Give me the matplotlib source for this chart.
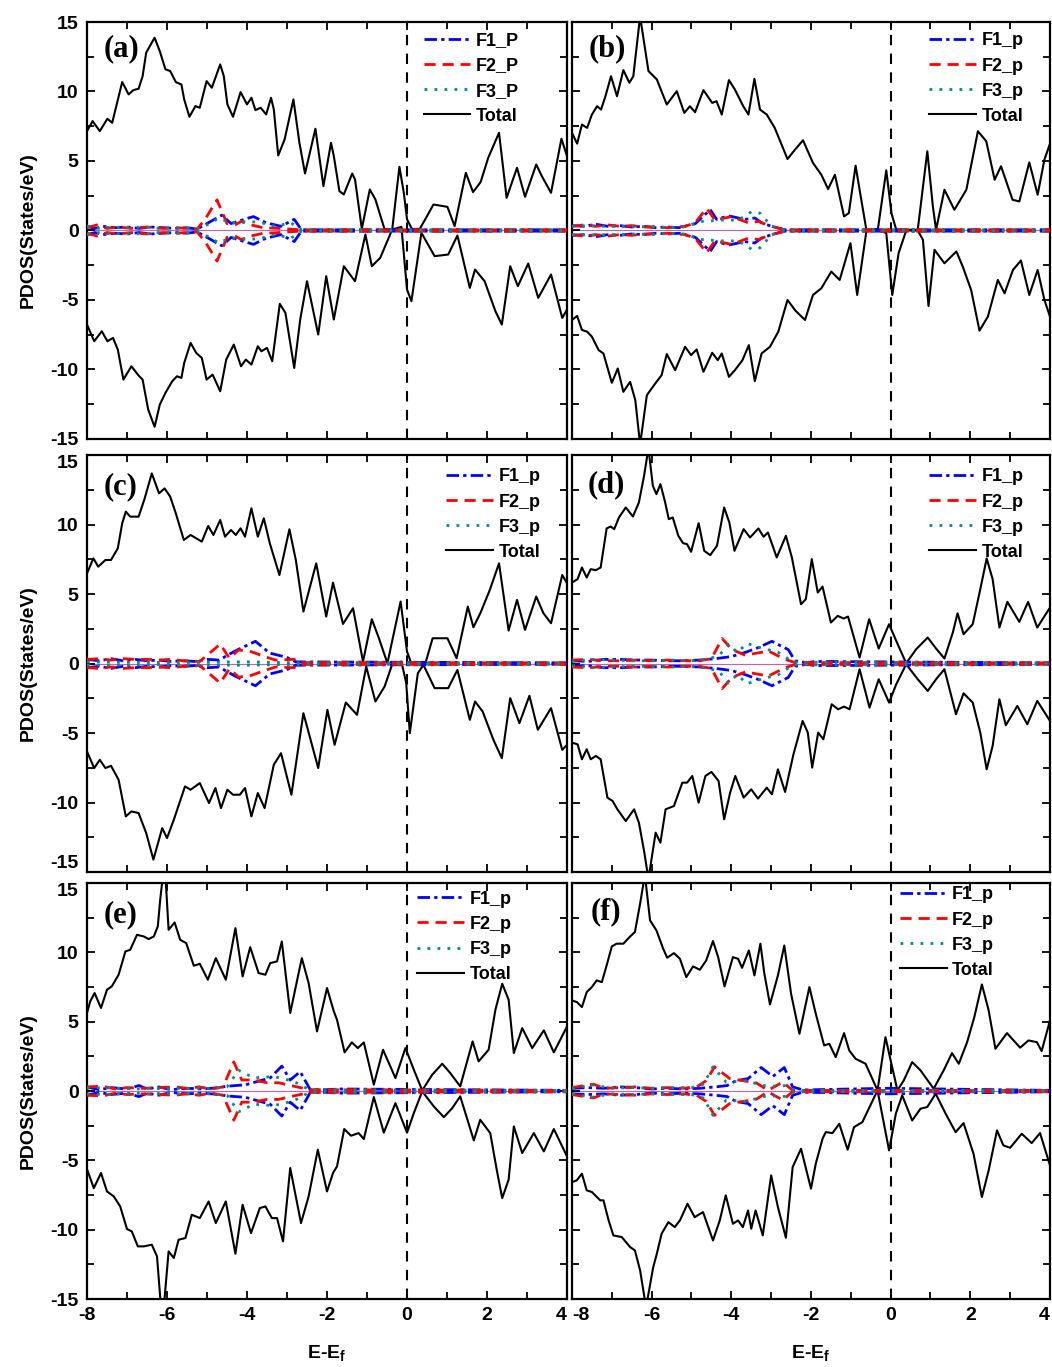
import matplotlib.pyplot as plt
from matplotlib.ticker import MultipleLocator

plt.rcParams['font.family'] = ['Liberation Sans', 'DejaVu Sans']
plt.rcParams['font.weight'] = 'bold'
plt.rcParams['axes.labelweight'] = 'bold'
plt.rcParams['axes.unicode_minus'] = False
plt.rcParams['mathtext.fontset'] = 'custom'
plt.rcParams['mathtext.rm'] = 'Liberation Sans:bold'

# total DOS, (energy, states/eV); spin up positive, spin down negative
tot_a_up = [(-8.0, 7.15), (-7.86, 7.87), (-7.68, 7.15), (-7.49, 8.04), (-7.37, 7.75), (-7.12, 10.68), (-6.96, 9.79),
            (-6.84, 10.1), (-6.71, 10.2), (-6.61, 11.1), (-6.52, 12.8), (-6.31, 13.87), (-6.18, 12.9), (-6.04, 11.6),
            (-5.92, 11.47), (-5.78, 10.68), (-5.64, 10.5), (-5.57, 9.43), (-5.44, 8.18), (-5.29, 8.95), (-5.18, 8.83),
            (-5.01, 10.75), (-4.88, 10.27), (-4.67, 11.95), (-4.58, 11.1), (-4.49, 9.07), (-4.35, 8.18), (-4.16, 9.96),
            (-4.0, 9.07), (-3.89, 9.55), (-3.79, 8.66), (-3.66, 8.83), (-3.52, 8.35), (-3.40, 9.55), (-3.33, 8.71),
            (-3.22, 5.4), (-3.06, 6.55), (-2.84, 9.43), (-2.69, 6.31), (-2.55, 4.1), (-2.29, 7.32), (-2.09, 3.19),
            (-1.9, 6.31), (-1.83, 5.35), (-1.69, 2.83), (-1.58, 2.59), (-1.37, 4.1), (-1.3, 3.67), (-1.13, 0.12),
            (-0.93, 2.95), (-0.79, 2.23), (-0.56, 0.07), (-0.37, 0.07), (-0.19, 4.58), (-0.08, 2.71), (0.0, 0.8),
            (0.13, 0.07), (0.32, 0.12), (0.50, 1.03), (0.66, 1.87), (1.01, 1.70), (1.19, 0.31), (1.47, 4.15),
            (1.65, 2.76), (1.84, 3.48), (2.03, 5.23), (2.30, 7.03), (2.49, 2.35), (2.75, 4.51), (2.95, 2.42),
            (3.23, 4.75), (3.37, 3.91), (3.60, 2.71), (3.86, 6.6), (4.0, 5.35)]
tot_a_dn = [(-8.0, -6.77), (-7.82, -7.97), (-7.63, -7.25), (-7.49, -7.97), (-7.35, -7.73), (-7.23, -8.57),
            (-7.09, -10.73), (-6.89, -9.77), (-6.71, -10.44), (-6.61, -10.73), (-6.47, -12.89), (-6.31, -14.13),
            (-6.18, -12.53), (-6.04, -11.69), (-5.87, -10.85), (-5.75, -10.49), (-5.64, -10.61), (-5.57, -9.53),
            (-5.41, -8.09), (-5.27, -8.81), (-5.13, -9.17), (-5.01, -10.73), (-4.86, -10.37), (-4.67, -11.57),
            (-4.52, -9.29), (-4.33, -8.21), (-4.15, -9.77), (-4.03, -9.29), (-3.89, -9.65), (-3.73, -8.33),
            (-3.64, -8.69), (-3.50, -8.45), (-3.37, -9.41), (-3.18, -5.28), (-3.04, -5.93), (-2.82, -9.89),
            (-2.67, -6.41), (-2.50, -3.65), (-2.22, -7.49), (-2.02, -3.29), (-1.83, -6.41), (-1.58, -2.57),
            (-1.30, -3.65), (-1.04, -0.29), (-0.88, -2.57), (-0.67, -1.97), (-0.37, 0.07), (-0.14, 0.26),
            (0.0, -4.25), (0.11, -5.09), (0.36, -0.17), (0.69, -1.85), (1.03, -1.73), (1.26, -0.36), (1.57, -4.13),
            (1.70, -2.81), (1.94, -3.65), (2.21, -5.81), (2.37, -6.77), (2.58, -2.57), (2.77, -4.01), (3.03, -2.38),
            (3.28, -4.85), (3.60, -3.17), (3.88, -6.29), (4.0, -5.69)]

tot_b_up = [(-8.0, 7.02), (-7.87, 6.25), (-7.75, 7.62), (-7.62, 7.38), (-7.50, 8.34), (-7.37, 8.94), (-7.27, 8.70),
            (-7.16, 9.66), (-7.02, 11.1), (-6.87, 9.66), (-6.71, 11.54), (-6.56, 10.63), (-6.46, 11.1), (-6.29, 15.4),
            (-6.08, 11.47), (-5.87, 10.87), (-5.62, 9.06), (-5.37, 10.02), (-5.18, 8.46), (-5.04, 8.94), (-4.91, 8.51),
            (-4.70, 10.10), (-4.48, 9.18), (-4.37, 9.30), (-4.24, 8.34), (-4.06, 10.82), (-3.91, 10.14), (-3.70, 8.94),
            (-3.57, 8.34), (-3.42, 10.91), (-3.28, 8.70), (-3.11, 8.34), (-2.91, 7.38), (-2.59, 5.14), (-2.40, 5.82),
            (-2.20, 6.49), (-1.95, 4.86), (-1.74, 4.01), (-1.57, 2.98), (-1.40, 4.01), (-1.17, 1.01), (-1.05, 1.25),
            (-0.88, 4.66), (-0.78, 2.93), (-0.61, 0.05), (-0.32, 0.10), (-0.11, 4.33), (0.02, 1.25), (0.14, 0.05),
            (0.68, 0.05), (0.92, 5.70), (1.06, 1.73), (1.14, 0.05), (1.35, 2.93), (1.60, 1.49), (1.90, 2.93),
            (2.19, 7.14), (2.40, 6.42), (2.61, 3.65), (2.77, 4.62), (3.06, 2.21), (3.23, 2.09), (3.48, 4.90),
            (3.69, 2.57), (3.86, 5.10), (4.0, 6.25)]
tot_b_dn = [(-8.0, -6.44), (-7.87, -6.15), (-7.75, -7.16), (-7.62, -7.28), (-7.50, -7.64), (-7.33, -8.61),
            (-7.21, -8.85), (-7.00, -10.96), (-6.85, -9.93), (-6.71, -11.61), (-6.54, -10.89), (-6.41, -12.21),
            (-6.29, -15.4), (-6.12, -11.85), (-5.91, -11.01), (-5.75, -10.41), (-5.62, -8.89), (-5.41, -10.05),
            (-5.16, -8.37), (-5.01, -8.97), (-4.87, -8.56), (-4.70, -10.17), (-4.48, -8.80), (-4.34, -9.33),
            (-4.24, -8.85), (-4.06, -10.53), (-3.91, -10.05), (-3.72, -9.33), (-3.56, -8.25), (-3.41, -10.84),
            (-3.24, -8.85), (-3.03, -8.37), (-2.82, -7.28), (-2.59, -5.00), (-2.39, -5.77), (-2.15, -6.44),
            (-1.95, -4.64), (-1.74, -4.16), (-1.49, -2.96), (-1.28, -3.56), (-1.01, -0.91), (-0.84, -4.64),
            (-0.61, -0.07), (-0.32, 0.05), (-0.11, -0.19), (0.04, -4.64), (0.20, -1.63), (0.39, 0.0), (0.68, 0.0),
            (0.81, -0.67), (0.95, -5.43), (1.10, -1.39), (1.35, -2.36), (1.65, -1.51), (1.81, -2.60), (2.02, -4.28),
            (2.23, -7.21), (2.44, -6.20), (2.69, -3.56), (2.86, -4.52), (3.07, -2.84), (3.27, -2.16), (3.48, -4.64),
            (3.69, -2.84), (3.86, -5.00), (4.0, -6.20)]

tot_c_up = [(-8.0, 6.49), (-7.84, 7.57), (-7.72, 6.97), (-7.54, 7.45), (-7.40, 7.45), (-7.23, 8.29), (-7.12, 10.09),
            (-7.03, 10.93), (-6.92, 10.57), (-6.71, 10.57), (-6.57, 11.77), (-6.38, 13.68), (-6.20, 12.25),
            (-6.06, 12.60), (-5.92, 12.01), (-5.78, 10.81), (-5.58, 8.89), (-5.41, 9.25), (-5.13, 8.77), (-4.97, 9.90),
            (-4.84, 9.25), (-4.67, 10.33), (-4.55, 9.13), (-4.40, 9.61), (-4.28, 9.25), (-4.16, 9.73), (-4.05, 9.13),
            (-3.89, 11.17), (-3.73, 9.13), (-3.58, 10.45), (-3.43, 8.65), (-3.19, 6.37), (-2.94, 9.66), (-2.78, 7.45),
            (-2.59, 3.74), (-2.27, 7.21), (-2.02, 3.38), (-1.85, 5.82), (-1.60, 2.85), (-1.35, 3.98), (-1.10, 0.14),
            (-0.88, 3.19), (-0.70, 1.80), (-0.49, 0.02), (-0.16, 4.46), (0.0, 0.86), (0.10, 0.07), (0.46, 0.02),
            (0.64, 1.82), (1.01, 1.82), (1.24, 0.38), (1.52, 4.10), (1.66, 2.61), (1.84, 3.67), (2.07, 5.30),
            (2.30, 7.21), (2.54, 2.37), (2.75, 4.58), (2.95, 2.42), (3.23, 4.82), (3.41, 3.62), (3.60, 2.90),
            (3.88, 6.37), (4.0, 5.78)]
tot_c_dn = [(-8.0, -6.33), (-7.82, -7.52), (-7.68, -6.93), (-7.54, -7.52), (-7.40, -7.36), (-7.21, -8.36),
            (-7.03, -11.0), (-6.89, -10.64), (-6.71, -10.76), (-6.52, -12.20), (-6.34, -14.11), (-6.12, -11.84),
            (-6.0, -12.56), (-5.83, -11.24), (-5.55, -8.84), (-5.41, -9.08), (-5.18, -8.60), (-4.95, -10.04),
            (-4.79, -8.96), (-4.65, -10.40), (-4.49, -9.08), (-4.35, -9.44), (-4.18, -9.44), (-4.05, -8.96),
            (-3.89, -11.0), (-3.73, -9.32), (-3.56, -10.40), (-3.33, -7.28), (-3.15, -6.45), (-2.89, -9.44),
            (-2.59, -3.57), (-2.22, -7.52), (-1.99, -3.33), (-1.81, -5.85), (-1.53, -2.80), (-1.25, -3.69),
            (-1.02, -0.22), (-0.79, -2.73), (-0.56, -1.65), (-0.37, -0.05), (-0.14, 0.14), (-0.02, -1.41),
            (0.07, -5.01), (0.27, -0.70), (0.41, -0.10), (0.69, -1.77), (1.03, -1.77), (1.26, -0.46), (1.57, -4.05),
            (1.70, -2.73), (1.89, -3.45), (2.16, -5.49), (2.37, -6.81), (2.58, -2.49), (2.81, -4.29), (3.06, -2.32),
            (3.27, -4.77), (3.60, -3.21), (3.88, -6.21), (4.0, -5.85)]

tot_d_up = [(-8.0, 5.83), (-7.86, 6.07), (-7.75, 6.91), (-7.63, 6.19), (-7.53, 6.79), (-7.40, 6.72), (-7.28, 6.91),
            (-7.13, 9.72), (-7.03, 9.86), (-6.94, 9.67), (-6.82, 10.51), (-6.65, 11.23), (-6.47, 10.58),
            (-6.32, 11.59), (-6.19, 13.51), (-6.08, 15.5), (-5.97, 12.79), (-5.88, 12.19), (-5.78, 12.91),
            (-5.67, 11.71), (-5.57, 10.39), (-5.47, 10.51), (-5.33, 9.19), (-5.21, 8.66), (-5.11, 8.59), (-5.01, 8.04),
            (-4.82, 10.10), (-4.68, 8.11), (-4.53, 7.80), (-4.36, 8.47), (-4.18, 11.23), (-4.05, 10.15), (-3.92, 8.11),
            (-3.69, 9.67), (-3.53, 9.07), (-3.32, 9.72), (-3.19, 9.12), (-3.08, 9.43), (-2.86, 7.63), (-2.63, 9.19),
            (-2.48, 7.63), (-2.25, 4.27), (-2.13, 4.63), (-1.98, 7.51), (-1.83, 5.11), (-1.71, 5.54), (-1.50, 2.95),
            (-1.33, 3.43), (-1.18, 3.24), (-1.07, 3.38), (-0.78, 0.43), (-0.54, 3.19), (-0.30, 1.08), (-0.04, 2.83),
            (0.14, 1.63), (0.39, 0.02), (0.64, 1.03), (0.93, 1.87), (1.14, 1.08), (1.35, 0.36), (1.56, 2.23),
            (1.68, 3.62), (1.83, 2.11), (2.06, 2.83), (2.25, 5.35), (2.41, 7.56), (2.56, 6.07), (2.73, 2.59),
            (2.93, 4.44), (3.23, 3.0), (3.45, 4.44), (3.68, 2.59), (4.0, 4.03)]
tot_d_dn = [(-8.0, -5.69), (-7.86, -5.81), (-7.75, -6.89), (-7.63, -6.17), (-7.53, -6.89), (-7.40, -6.65),
            (-7.28, -6.89), (-7.11, -9.65), (-6.98, -9.89), (-6.86, -10.49), (-6.65, -11.33), (-6.44, -10.49),
            (-6.32, -11.45), (-6.19, -13.49), (-6.08, -15.5), (-5.90, -12.17), (-5.78, -12.89), (-5.65, -10.49),
            (-5.44, -10.25), (-5.23, -8.57), (-5.11, -8.57), (-4.98, -8.09), (-4.82, -10.01), (-4.65, -8.09),
            (-4.50, -7.80), (-4.32, -8.45), (-4.18, -11.21), (-4.03, -9.29), (-3.90, -8.09), (-3.69, -9.65),
            (-3.50, -9.05), (-3.33, -9.72), (-3.11, -8.93), (-2.98, -9.41), (-2.83, -7.61), (-2.65, -9.24),
            (-2.44, -6.53), (-2.21, -4.13), (-2.08, -4.97), (-1.97, -7.49), (-1.82, -4.97), (-1.69, -5.45),
            (-1.48, -2.93), (-1.32, -3.29), (-1.17, -3.10), (-1.03, -3.29), (-0.78, -0.41), (-0.53, -3.17),
            (-0.30, -1.13), (-0.04, -2.81), (0.14, -1.49), (0.39, -0.05), (0.68, -1.13), (0.93, -1.97),
            (1.14, -1.13), (1.35, -0.41), (1.64, -3.65), (1.83, -2.14), (2.06, -2.81), (2.25, -4.97), (2.41, -7.61),
            (2.56, -5.93), (2.73, -2.57), (2.89, -4.44), (3.18, -3.05), (3.43, -4.37), (3.68, -2.69), (4.0, -4.13)]

tot_e_up = [(-8.0, 5.63), (-7.92, 6.47), (-7.81, 7.07), (-7.65, 5.99), (-7.50, 7.31), (-7.38, 7.55), (-7.21, 8.39),
            (-7.04, 10.07), (-6.92, 10.19), (-6.75, 11.27), (-6.58, 11.15), (-6.46, 10.96), (-6.33, 11.15),
            (-6.23, 11.88), (-6.17, 13.8), (-6.10, 15.6), (-6.04, 15.6), (-5.96, 11.63), (-5.81, 12.16),
            (-5.67, 10.91), (-5.52, 10.67), (-5.33, 9.04), (-5.18, 9.18), (-4.98, 8.03), (-4.78, 9.59), (-4.53, 8.03),
            (-4.29, 11.75), (-4.11, 8.27), (-3.92, 10.38), (-3.71, 8.51), (-3.54, 8.39), (-3.42, 9.23), (-3.25, 9.35),
            (-3.13, 10.79), (-2.92, 5.63), (-2.63, 9.59), (-2.46, 7.79), (-2.25, 4.30), (-2.0, 7.43), (-1.83, 5.75),
            (-1.75, 5.14), (-1.56, 2.79), (-1.38, 3.51), (-1.23, 3.10), (-1.08, 3.51), (-0.83, 0.46), (-0.60, 2.98),
            (-0.29, 0.94), (-0.04, 3.10), (0.17, 1.54), (0.38, 0.05), (0.63, 1.18), (0.88, 1.97), (1.08, 1.30),
            (1.33, 0.34), (1.64, 3.58), (1.79, 2.14), (2.04, 2.98), (2.21, 5.87), (2.38, 7.74), (2.54, 6.59),
            (2.67, 2.74), (2.88, 4.54), (3.13, 3.10), (3.42, 4.38), (3.67, 2.79), (4.0, 4.66)]
tot_e_dn = [(-8.0, -5.63), (-7.83, -7.0), (-7.65, -5.91), (-7.50, -7.24), (-7.33, -7.60), (-7.17, -8.32),
            (-7.0, -9.95), (-6.88, -10.12), (-6.73, -11.20), (-6.58, -11.20), (-6.38, -11.08), (-6.25, -11.92),
            (-6.15, -15.6), (-6.08, -15.6), (-5.96, -11.56), (-5.83, -12.04), (-5.71, -10.72), (-5.54, -10.60),
            (-5.38, -8.92), (-5.18, -9.16), (-4.96, -7.96), (-4.78, -9.52), (-4.53, -7.96), (-4.29, -11.73),
            (-4.11, -8.20), (-3.90, -10.24), (-3.68, -8.44), (-3.54, -8.32), (-3.38, -9.16), (-3.25, -9.16),
            (-3.10, -10.84), (-2.92, -5.55), (-2.65, -9.52), (-2.46, -7.60), (-2.23, -4.23), (-2.0, -7.24),
            (-1.85, -5.91), (-1.75, -5.43), (-1.57, -2.74), (-1.40, -3.22), (-1.21, -3.03), (-1.08, -3.46),
            (-0.83, -0.43), (-0.58, -3.0), (-0.29, -0.87), (0.0, -3.0), (0.17, -1.59), (0.38, -0.02), (0.67, -1.11),
            (0.92, -1.88), (1.13, -1.23), (1.33, -0.38), (1.67, -3.56), (1.83, -2.07), (2.08, -3.03), (2.25, -5.79),
            (2.38, -7.72), (2.54, -6.39), (2.67, -2.55), (2.88, -4.47), (3.17, -3.03), (3.42, -4.35), (3.67, -2.74),
            (4.0, -4.71)]

tot_f_up = [(-8.0, 6.54), (-7.88, 6.42), (-7.75, 6.06), (-7.63, 7.14), (-7.50, 7.50), (-7.38, 7.98), (-7.25, 7.86),
            (-7.13, 9.06), (-7.0, 10.43), (-6.88, 10.63), (-6.71, 10.63), (-6.54, 11.15), (-6.42, 11.47),
            (-6.29, 13.51), (-6.17, 15.6), (-6.04, 12.31), (-5.88, 11.59), (-5.71, 10.26), (-5.61, 9.62),
            (-5.44, 9.95), (-5.29, 9.54), (-5.13, 8.22), (-4.96, 8.99), (-4.79, 8.75), (-4.63, 9.42), (-4.46, 10.82),
            (-4.33, 9.66), (-4.17, 7.55), (-3.96, 9.66), (-3.83, 9.54), (-3.73, 8.89), (-3.56, 10.14), (-3.42, 8.34),
            (-3.27, 10.63), (-3.17, 8.46), (-3.03, 6.25), (-2.83, 8.34), (-2.67, 10.5), (-2.50, 7.02), (-2.29, 4.13),
            (-2.04, 7.50), (-1.88, 5.58), (-1.67, 3.29), (-1.54, 3.41), (-1.38, 2.45), (-1.17, 4.18), (-1.04, 2.93),
            (-0.88, 2.33), (-0.63, 1.97), (-0.33, 0.05), (-0.13, 3.89), (0.0, 2.21), (0.17, 0.05), (0.33, 0.77),
            (0.54, 2.09), (0.75, 1.49), (1.08, 0.17), (1.33, 1.49), (1.54, 2.74), (1.71, 1.97), (1.92, 3.53),
            (2.10, 5.34), (2.29, 7.69), (2.46, 5.82), (2.63, 3.05), (2.92, 4.18), (3.25, 3.13), (3.46, 3.65),
            (3.67, 3.53), (3.79, 2.88), (4.0, 5.10)]
tot_f_dn = [(-8.0, -6.56), (-7.88, -6.44), (-7.75, -5.96), (-7.63, -7.16), (-7.50, -7.28), (-7.29, -7.88),
            (-7.21, -7.88), (-7.08, -9.33), (-6.96, -10.41), (-6.75, -10.53), (-6.54, -11.25), (-6.42, -11.49),
            (-6.29, -12.93), (-6.14, -15.6), (-5.96, -12.69), (-5.88, -11.85), (-5.75, -10.29), (-5.58, -9.45),
            (-5.42, -9.81), (-5.29, -9.33), (-5.10, -8.13), (-4.92, -9.09), (-4.71, -8.73), (-4.46, -10.77),
            (-4.29, -9.33), (-4.14, -7.52), (-3.96, -9.57), (-3.83, -9.33), (-3.71, -9.81), (-3.58, -8.61),
            (-3.50, -9.93), (-3.39, -8.61), (-3.21, -10.41), (-3.0, -6.08), (-2.83, -8.37), (-2.63, -10.58),
            (-2.46, -5.48), (-2.25, -4.16), (-2.0, -7.04), (-1.88, -5.24), (-1.71, -3.44), (-1.63, -2.96),
            (-1.46, -3.03), (-1.29, -2.36), (-1.08, -4.23), (-0.92, -2.60), (-0.71, -2.24), (-0.33, 0.05),
            (-0.04, -4.28), (0.13, -1.63), (0.29, -0.31), (0.54, -2.12), (0.75, -1.27), (0.92, -1.15), (1.13, -0.19),
            (1.38, -1.63), (1.63, -2.96), (1.83, -2.31), (2.08, -4.52), (2.29, -7.64), (2.46, -5.72), (2.67, -2.84),
            (2.83, -3.92), (3.0, -4.09), (3.29, -3.08), (3.54, -3.75), (3.75, -3.03), (4.0, -5.36)]

# F p-orbital PDOS magnitudes (same on both spin channels)
f1_a = [(-8.0, 0.3), (-7.8, 0.15), (-7.6, 0.3), (-7.3, 0.2), (-7.0, 0.25), (-6.7, 0.15), (-6.4, 0.25), (-6.1, 0.2),
        (-5.8, 0.15), (-5.5, 0.2), (-5.25, 0.1), (-5.0, 0.5), (-4.63, 1.1), (-4.4, 0.5), (-4.07, 0.8), (-3.84, 1.0),
        (-3.52, 0.55), (-3.15, 0.3), (-2.82, 0.8), (-2.64, 0.05), (4.0, 0.05)]
f2_a = [(-8.0, 0.2), (-7.75, 0.4), (-7.5, 0.15), (-7.2, 0.25), (-6.9, 0.15), (-6.5, 0.25), (-6.1, 0.15), (-5.8, 0.2),
        (-5.5, 0.15), (-5.25, 0.1), (-5.05, 0.8), (-4.75, 2.2), (-4.5, 0.5), (-4.3, 0.4), (-4.15, 0.65), (-3.9, 0.4),
        (-3.6, 0.2), (-3.2, 0.15), (-2.7, 0.05), (4.0, 0.05)]
f3_a = [(-8.0, 0.3), (-7.7, 0.15), (-7.4, 0.25), (-7.0, 0.2), (-6.6, 0.25), (-6.2, 0.15), (-5.8, 0.2), (-5.5, 0.15),
        (-5.25, 0.1), (-5.0, 0.4), (-4.7, 0.9), (-4.4, 0.5), (-4.2, 0.65), (-3.7, 0.6), (-3.3, 0.3), (-2.9, 0.55),
        (-2.64, 0.05), (4.0, 0.05)]

f1_b = [(-8.0, 0.35), (-7.7, 0.3), (-7.4, 0.45), (-7.1, 0.3), (-6.8, 0.35), (-6.5, 0.25), (-6.2, 0.3), (-5.9, 0.2),
        (-5.6, 0.25), (-5.3, 0.2), (-4.9, 0.5), (-4.53, 1.5), (-4.37, 0.8), (-4.07, 1.05), (-3.66, 0.8), (-3.41, 0.9),
        (-3.24, 0.55), (-2.99, 0.3), (-2.66, 0.05), (4.0, 0.05)]
f2_b = [(-8.0, 0.3), (-7.7, 0.4), (-7.4, 0.3), (-7.1, 0.4), (-6.8, 0.3), (-6.5, 0.35), (-6.2, 0.25), (-5.9, 0.25),
        (-5.6, 0.2), (-5.16, 0.3), (-4.91, 0.55), (-4.62, 1.6), (-4.41, 0.75), (-3.99, 1.0), (-3.57, 0.55),
        (-3.32, 0.65), (-2.99, 0.3), (-2.66, 0.05), (4.0, 0.05)]
f3_b = [(-8.0, 0.3), (-7.6, 0.35), (-7.2, 0.3), (-6.8, 0.3), (-6.4, 0.25), (-6.0, 0.3), (-5.6, 0.2), (-5.2, 0.25),
        (-4.74, 0.65), (-4.28, 0.75), (-3.82, 0.75), (-3.49, 1.35), (-3.28, 1.25), (-2.99, 0.3), (-2.66, 0.05),
        (4.0, 0.05)]

f1_c = [(-8.0, 0.3), (-7.7, 0.2), (-7.4, 0.35), (-7.1, 0.2), (-6.8, 0.3), (-6.5, 0.2), (-6.2, 0.25), (-5.9, 0.15),
        (-5.6, 0.2), (-5.3, 0.15), (-5.0, 0.3), (-4.7, 0.25), (-4.3, 0.9), (-3.79, 1.6), (-3.43, 0.75), (-3.01, 0.45),
        (-2.78, 0.12), (4.0, 0.05)]
f2_c = [(-8.0, 0.3), (-7.7, 0.35), (-7.4, 0.25), (-7.1, 0.35), (-6.8, 0.3), (-6.5, 0.3), (-6.2, 0.25), (-5.9, 0.3),
        (-5.6, 0.2), (-5.18, 0.15), (-4.67, 1.4), (-4.44, 0.38), (-4.21, 0.98), (-3.89, 0.85), (-3.56, 0.5),
        (-3.29, 0.25), (-2.82, 0.3), (-2.69, 0.07), (4.0, 0.05)]
f3_c = [(-8.0, 0.12), (-6.0, 0.08), (-4.0, 0.12), (-2.7, 0.05), (4.0, 0.05)]

f1_d = [(-8.0, 0.2), (-7.6, 0.15), (-7.2, 0.3), (-6.8, 0.3), (-6.4, 0.25), (-6.0, 0.25), (-5.6, 0.2), (-5.2, 0.2),
        (-4.8, 0.25), (-4.4, 0.35), (-4.0, 0.5), (-3.65, 0.8), (-3.32, 1.15), (-2.98, 1.6), (-2.57, 1.0), (-2.4, 0.2),
        (-2.1, 0.05), (-1.9, 0.15), (4.0, 0.05)]
f2_d = [(-8.0, 0.25), (-7.6, 0.3), (-7.2, 0.2), (-6.8, 0.2), (-6.4, 0.25), (-6.0, 0.2), (-5.6, 0.25), (-5.2, 0.2),
        (-4.8, 0.2), (-4.5, 0.35), (-4.23, 1.8), (-3.98, 1.0), (-3.65, 0.6), (-3.07, 0.9), (-2.65, 0.3), (-2.4, 0.07),
        (4.0, 0.05)]
f3_d = [(-8.0, 0.15), (-7.5, 0.3), (-7.0, 0.25), (-6.5, 0.2), (-6.0, 0.2), (-5.5, 0.25), (-5.0, 0.2), (-4.6, 0.3),
        (-4.3, 0.6), (-4.07, 1.4), (-3.85, 0.8), (-3.61, 1.45), (-3.28, 1.15), (-2.82, 0.8), (-2.45, 0.1), (4.0, 0.05)]

f1_e = [(-8.0, 0.3), (-7.7, 0.1), (-7.4, 0.25), (-7.0, 0.15), (-6.7, 0.4), (-6.5, 0.15), (-6.2, 0.3), (-5.9, 0.1),
        (-5.5, 0.2), (-5.1, 0.15), (-4.7, 0.25), (-4.5, 0.35), (-4.04, 0.45), (-3.42, 0.95), (-3.13, 1.8),
        (-2.92, 0.8), (-2.67, 1.4), (-2.42, 0.1), (-2.0, 0.1), (-1.7, 0.15), (4.0, 0.05)]
f2_e = [(-8.0, 0.3), (-7.6, 0.35), (-7.3, 0.15), (-7.0, 0.25), (-6.6, 0.2), (-6.2, 0.25), (-5.8, 0.3), (-5.5, 0.2),
        (-5.2, 0.3), (-4.9, 0.15), (-4.6, 0.3), (-4.33, 2.1), (-4.13, 0.8), (-3.83, 0.8), (-3.5, 0.6), (-3.21, 0.6),
        (-2.83, 0.35), (-2.42, 0.1), (4.0, 0.05)]
f3_e = [(-8.0, 0.2), (-7.6, 0.25), (-7.2, 0.2), (-6.8, 0.15), (-6.4, 0.2), (-6.0, 0.15), (-5.6, 0.2), (-5.2, 0.2),
        (-4.8, 0.2), (-4.5, 0.3), (-4.21, 1.5), (-3.83, 0.95), (-3.33, 1.05), (-2.83, 0.7), (-2.45, 0.1), (4.0, 0.05)]

f1_f = [(-8.0, 0.2), (-7.6, 0.25), (-7.2, 0.2), (-6.8, 0.3), (-6.4, 0.25), (-6.0, 0.15), (-5.6, 0.2), (-5.2, 0.15),
        (-4.8, 0.2), (-4.4, 0.3), (-4.1, 0.4), (-3.88, 0.75), (-3.58, 0.9), (-3.25, 1.7), (-2.96, 1.05), (-2.67, 1.7),
        (-2.46, 0.3), (-2.2, 0.08), (-0.1, 0.2), (4.0, 0.05)]
f2_f = [(-8.0, 0.25), (-7.46, 0.5), (-7.2, 0.2), (-6.8, 0.25), (-6.4, 0.3), (-6.0, 0.2), (-5.6, 0.25), (-5.2, 0.2),
        (-4.87, 0.3), (-4.63, 0.75), (-4.42, 1.75), (-4.04, 0.9), (-3.71, 0.75), (-3.38, 0.6), (-3.08, 0.05),
        (-2.71, 0.65), (-2.46, 0.05), (4.0, 0.05)]
f3_f = [(-8.0, 0.2), (-7.5, 0.45), (-7.0, 0.2), (-6.5, 0.25), (-6.0, 0.2), (-5.5, 0.25), (-5.0, 0.25), (-4.7, 0.5),
        (-4.46, 1.75), (-4.13, 0.65), (-3.63, 0.75), (-3.2, 0.4), (-2.9, 0.35), (-2.6, 0.4), (-2.4, 0.05), (4.0, 0.05)]

panel_tags = ['(a)', '(b)', '(c)', '(d)', '(e)', '(f)']
orbital = ['P', 'p', 'p', 'p', 'p', 'p']
totals = [(tot_a_up, tot_a_dn), (tot_b_up, tot_b_dn), (tot_c_up, tot_c_dn),
          (tot_d_up, tot_d_dn), (tot_e_up, tot_e_dn), (tot_f_up, tot_f_dn)]
pdos = [(f1_a, f2_a, f3_a), (f1_b, f2_b, f3_b), (f1_c, f2_c, f3_c),
        (f1_d, f2_d, f3_d), (f1_e, f2_e, f3_e), (f1_f, f2_f, f3_f)]

# axes rectangles in figure fraction: 3 rows x 2 columns
col_x = [(0.0827, 0.4563), (0.5437, 0.4544)]
row_y = [(0.6789, 0.3050), (0.3621, 0.3050), (0.0497, 0.3043)]
legend_anchor = [(0.90, 0.975), (0.945, 0.975), (0.945, 0.968), (0.945, 0.968), (0.885, 0.982), (0.883, 0.992)]
tag_pos = [(0.035, 0.935), (0.035, 0.935), (0.035, 0.925), (0.033, 0.93), (0.035, 0.925), (0.038, 0.93)]

pdos_styles = [dict(color='blue', dashes=(4.5, 1.5, 1.2, 1.5)),
               dict(color='red', dashes=(4.0, 2.5)),
               dict(color='#008b8b', dashes=(1.0, 2.6))]

fig = plt.figure(figsize=(10.52, 13.67), dpi=100)

for i in range(6):
    r, c = divmod(i, 2)
    ax = fig.add_axes([col_x[c][0], row_y[r][0], col_x[c][1], row_y[r][1]])

    ax.axhline(0, color='#c060c0', lw=0.8, zorder=1)
    ax.axvline(0, color='black', lw=1.5, dashes=(5, 4), zorder=2)

    up, dn = totals[i]
    ex, ey = zip(*up)
    total_line, = ax.plot(ex, ey, color='black', lw=1.5, zorder=3)
    ex, ey = zip(*dn)
    ax.plot(ex, ey, color='black', lw=1.5, zorder=3)

    handles = []
    for k, curve in enumerate(pdos[i]):
        px, py = zip(*curve)
        h, = ax.plot(px, py, lw=2.0, zorder=4, **pdos_styles[k])
        ax.plot(px, [-v for v in py], lw=2.0, zorder=4, **pdos_styles[k])
        handles.append(h)
    handles.append(total_line)
    labels = ['F%d_%s' % (k + 1, orbital[i]) for k in range(3)] + ['Total']

    ax.set_xlim(-8, 4)
    ax.set_ylim(-15, 15)
    ax.xaxis.set_major_locator(MultipleLocator(2))
    ax.xaxis.set_minor_locator(MultipleLocator(1))
    ax.yaxis.set_major_locator(MultipleLocator(5))
    ax.yaxis.set_minor_locator(MultipleLocator(2.5))
    ax.tick_params(which='both', direction='in', top=True, right=True, width=1.3,
                   labelsize=14, pad=6)
    ax.tick_params(which='major', length=6)
    ax.tick_params(which='minor', length=5)
    for sp in ax.spines.values():
        sp.set_linewidth(1.6)

    if c == 1:
        ax.tick_params(labelleft=False)
    else:
        ax.set_ylabel('PDOS(States/eV)', fontsize=14, labelpad=10)
        # keep end labels of stacked panels apart
        ylocs = ax.yaxis.get_majorticklocs()
        for loc, t in zip(ylocs, ax.yaxis.get_major_ticks(len(ylocs))):
            if loc == 15 and r > 0:
                t.label1.set_va('top')
            if loc == -15 and r == 1:
                t.label1.set_va('bottom')
    if r < 2:
        ax.tick_params(labelbottom=False)
    else:
        ax.set_xlabel('E-E$_\\mathregular{f}$', fontsize=14, labelpad=14)
        xlocs = ax.xaxis.get_majorticklocs()
        for loc, t in zip(xlocs, ax.xaxis.get_major_ticks(len(xlocs))):
            if loc == 4:
                t.label1.set_ha('right')
            if loc == -8 and c == 1:
                t.label1.set_ha('left')

    ax.text(tag_pos[i][0], tag_pos[i][1], panel_tags[i], transform=ax.transAxes,
            family='Liberation Serif', fontsize=22, va='center', ha='left')

    ax.legend(handles, labels, loc='upper right', bbox_to_anchor=legend_anchor[i],
              frameon=False, fontsize=13, handlelength=2.6, handletextpad=0.3,
              labelspacing=0.45, borderaxespad=0, borderpad=0)

fig.savefig('out.png', dpi=100)
